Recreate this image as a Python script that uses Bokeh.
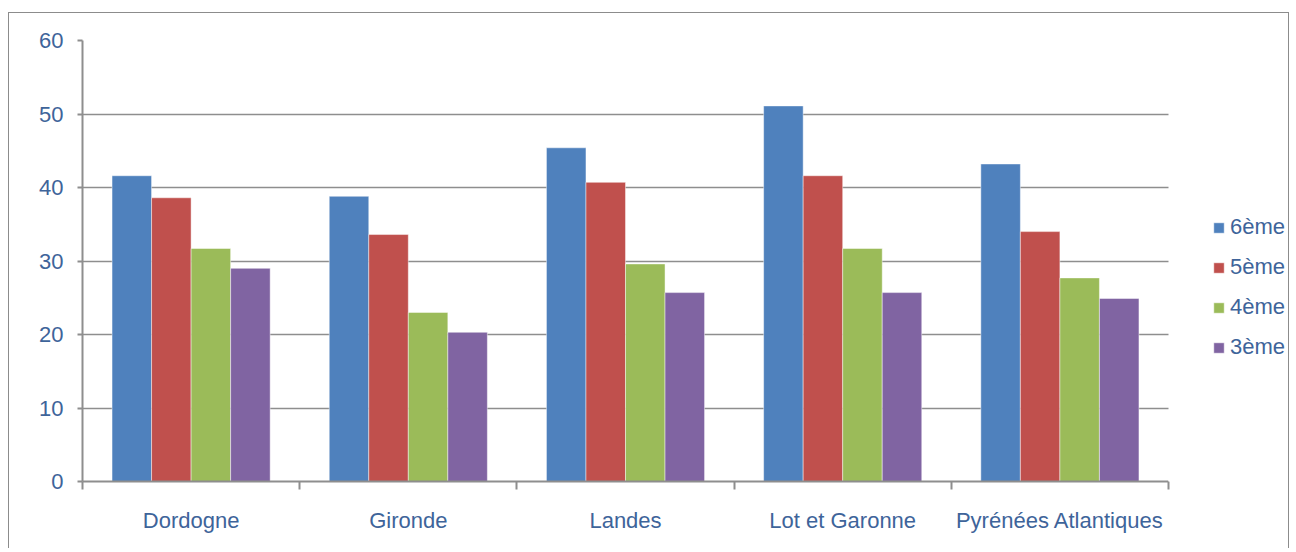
from bokeh.plotting import figure
from bokeh.models import ColumnDataSource, FixedTicker, Legend, LegendItem, Range1d, BoxAnnotation
from bokeh.transform import dodge
from bokeh.embed import file_html
from bokeh.resources import INLINE

categories = ["Dordogne", "Gironde", "Landes", "Lot et Garonne", "Pyrénées Atlantiques"]
series_names = ["6ème", "5ème", "4ème", "3ème"]
s6 = [41.6, 38.8, 45.4, 51.1, 43.2]
s5 = [38.6, 33.6, 40.7, 41.6, 34.0]
s4 = [31.7, 23.0, 29.6, 31.7, 27.7]
s3 = [29.0, 20.3, 25.7, 25.7, 24.9]
y_ticks = [0, 10, 20, 30, 40, 50, 60]

colors = ["#4F81BD", "#C0504D", "#9BBB59", "#8064A2"]
TEXT = "#3E649A"
GRID = "#8E8E8E"
FONT = "Liberation Sans"

n = len(categories)
centers = [i + 0.5 for i in range(n)]
src = ColumnDataSource(dict(x=centers, s6=s6, s5=s5, s4=s4, s3=s3))

# plot area is 1086 px for the categories; the frame continues 122 px further
# to host the legend (that part is blanked out)
x_end = n * 1208 / 1086

p = figure(width=1281, height=536, output_backend="svg", toolbar_location=None,
           x_range=Range1d(0, x_end), y_range=Range1d(0, 60),
           min_border_left=73, min_border_right=0, min_border_top=27, min_border_bottom=68)
p.styles = {"border-top": "1px solid #8c8c8c", "border-left": "1px solid #8c8c8c",
            "border-right": "1px solid #8c8c8c", "margin-top": "12px", "margin-left": "8px"}
p.outline_line_color = None
p.background_fill_color = "white"
p.border_fill_color = "white"

bw = 0.182
offsets = [-1.5 * bw, -0.5 * bw, 0.5 * bw, 1.5 * bw]
renderers = []
for col, off, c in zip(["s6", "s5", "s4", "s3"], offsets, colors):
    r = p.vbar(x=dodge("x", off), top=col, width=bw, source=src, fill_color=c,
               line_color="white", line_alpha=0.45, line_width=1)
    renderers.append(r)

# grid
p.xgrid.grid_line_color = None
p.ygrid.grid_line_color = GRID
p.ygrid.grid_line_width = 1.5
p.yaxis.ticker = FixedTicker(ticks=y_ticks)

# blank the legend area to the right of the last category
p.add_layout(BoxAnnotation(left=n, fill_color="white", fill_alpha=1, line_color=None))

# y axis
p.yaxis.axis_line_color = GRID
p.yaxis.axis_line_width = 2
p.yaxis.major_tick_line_color = GRID
p.yaxis.major_tick_line_width = 2
p.yaxis.major_tick_out = 5
p.yaxis.major_tick_in = 0
p.yaxis.minor_tick_line_color = None
p.yaxis.major_label_standoff = 14
p.yaxis.major_label_text_font = FONT
p.yaxis.major_label_text_font_size = "22px"
p.yaxis.major_label_text_color = TEXT

# x axis: labels at category centres, ticks at category boundaries
p.xaxis.bounds = (0, n)
p.xaxis.ticker = FixedTicker(ticks=centers, minor_ticks=list(range(n + 1)))
p.xaxis.major_label_overrides = {c: name for c, name in zip(centers, categories)}
p.xaxis.major_tick_line_color = None
p.xaxis.major_tick_out = 0
p.xaxis.major_tick_in = 0
p.xaxis.minor_tick_line_color = GRID
p.xaxis.minor_tick_line_width = 2
p.xaxis.minor_tick_out = 8
p.xaxis.minor_tick_in = 0
p.xaxis.axis_line_color = GRID
p.xaxis.axis_line_width = 2
p.xaxis.major_label_standoff = 18
p.xaxis.major_label_text_font = FONT
p.xaxis.major_label_text_font_size = "22px"
p.xaxis.major_label_text_color = TEXT

legend = Legend(items=[LegendItem(label=s, renderers=[r]) for s, r in zip(series_names, renderers)],
                location=(1130, 121), padding=0, margin=0, spacing=14,
                glyph_width=13, glyph_height=13, label_height=26, label_standoff=5,
                label_text_font=FONT, label_text_font_size="22px", label_text_color=TEXT,
                border_line_color=None, background_fill_alpha=0)
p.add_layout(legend, "center")

open("out.html", "w").write(file_html(p, INLINE))
